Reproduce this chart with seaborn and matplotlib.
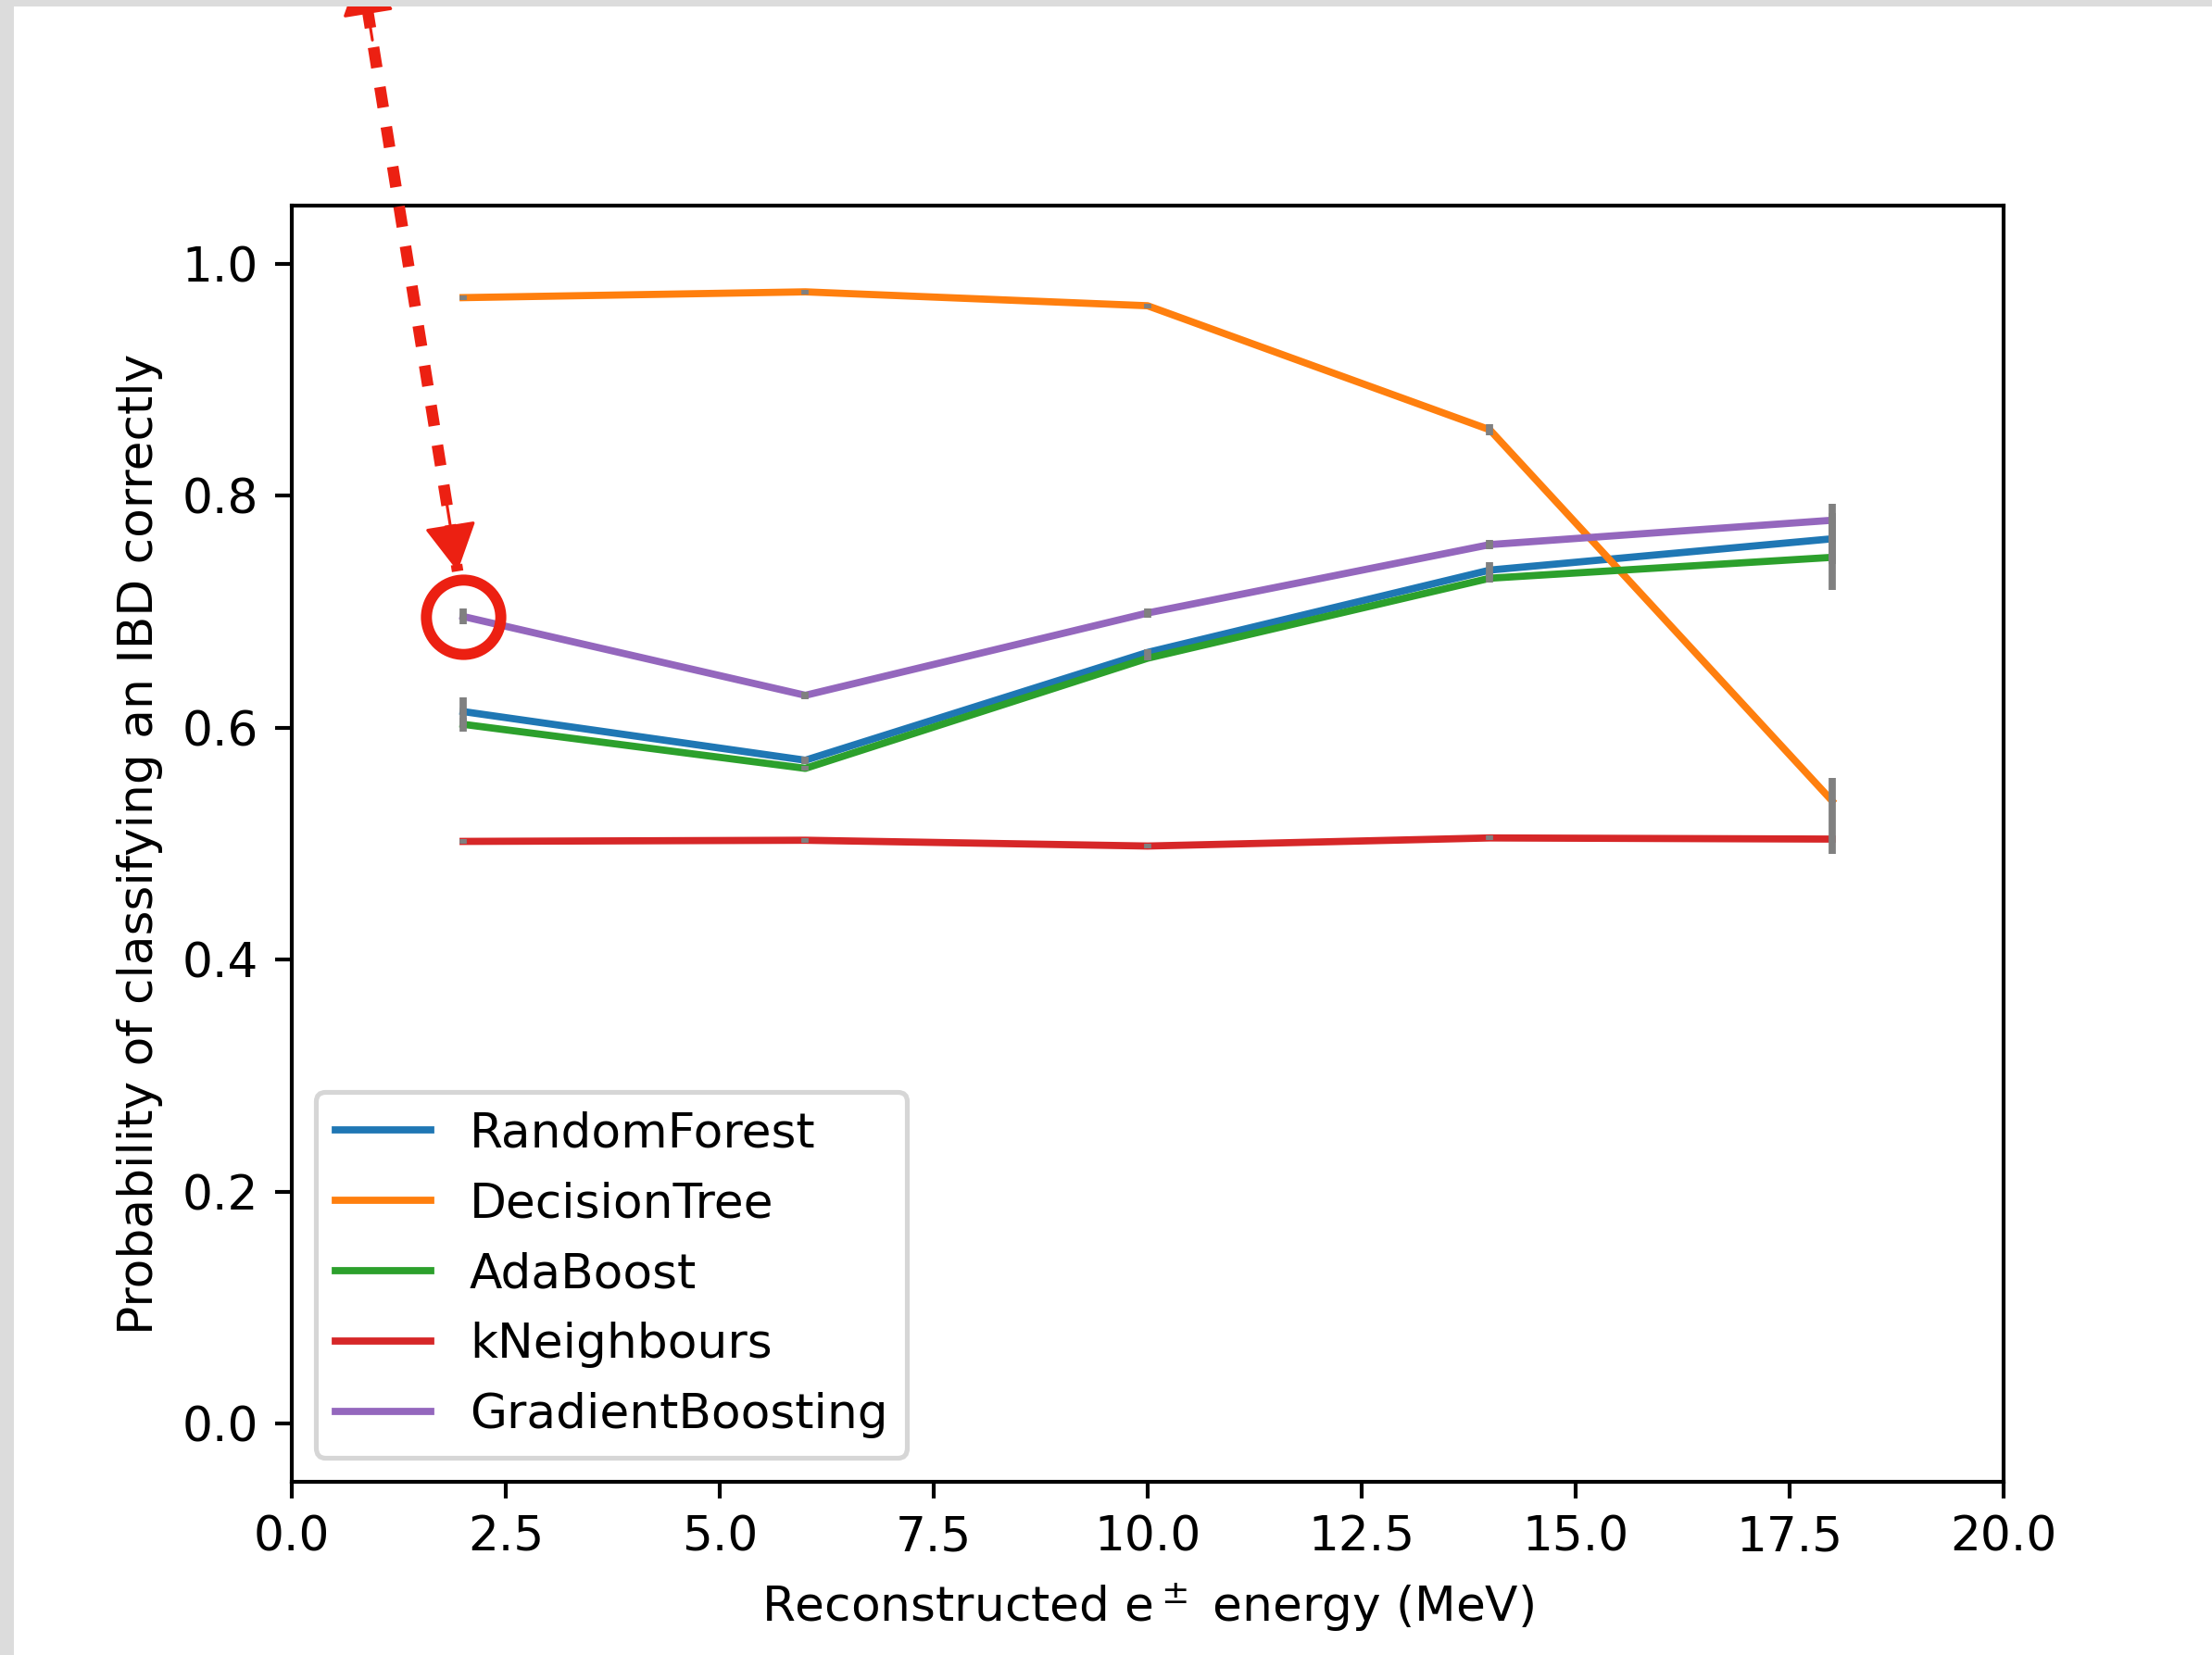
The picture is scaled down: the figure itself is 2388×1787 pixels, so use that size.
import numpy as np
import pandas as pd
import matplotlib
matplotlib.use("Agg")
import matplotlib.pyplot as plt
from matplotlib.patches import Rectangle
import seaborn as sns

# Energy bin centres (MeV)
energy = [2, 6, 10, 14, 18]

# Classifier names
classifiers = ["RandomForest", "DecisionTree", "AdaBoost", "kNeighbours", "GradientBoosting"]

# Probability of classifying an IBD event correctly, per energy bin
random_forest = [0.614, 0.572, 0.665, 0.736, 0.763]
decision_tree = [0.971, 0.976, 0.964, 0.857, 0.537]
ada_boost = [0.603, 0.565, 0.660, 0.729, 0.747]
k_neighbours = [0.502, 0.503, 0.498, 0.505, 0.504]
gradient_boosting = [0.696, 0.628, 0.699, 0.758, 0.779]

# Statistical uncertainty on each probability
random_forest_err = [0.012, 0.003, 0.003, 0.0066, 0.022]
decision_tree_err = [0.002, 0.002, 0.002, 0.0045, 0.020]
ada_boost_err = [0.006, 0.002, 0.002, 0.004, 0.028]
k_neighbours_err = [0.002, 0.002, 0.002, 0.002, 0.013]
gradient_boosting_err = [0.007, 0.003, 0.004, 0.004, 0.014]

values = [random_forest, decision_tree, ada_boost, k_neighbours, gradient_boosting]
errors = [random_forest_err, decision_tree_err, ada_boost_err, k_neighbours_err, gradient_boosting_err]

rows = []
for name, vals, errs in zip(classifiers, values, errors):
    for e, v, s in zip(energy, vals, errs):
        rows.append({"energy": e, "prob": v, "err": s, "classifier": name})
df = pd.DataFrame(rows)

dpi = 373
fig = plt.figure(figsize=(2388 / dpi, 1787 / dpi), dpi=dpi)
ax = fig.add_axes([0.1320, 0.1049, 0.9056 - 0.1320, 0.8755 - 0.1049])

palette = sns.color_palette("tab10", len(classifiers))
for name, color in zip(classifiers, palette):
    sub = df[df["classifier"] == name]
    sns.lineplot(data=sub, x="energy", y="prob", color=color, label=name,
                 linewidth=1.5, ax=ax, zorder=2)
    ax.errorbar(sub["energy"], sub["prob"], yerr=sub["err"], fmt="none",
                ecolor="gray", elinewidth=1.5, capsize=0, zorder=3)

ax.set_xlim(0, 20)
ax.set_ylim(-0.05, 1.05)
ax.set_xlabel(r"Reconstructed e$^\pm$ energy (MeV)")
ax.set_ylabel("Probability of classifying an IBD correctly")
ax.legend(loc="lower left")

# Highlight of the first GradientBoosting point
red = "#ec2012"
ax.plot([energy[0]], [gradient_boosting[0]], marker="o", markersize=15.5,
        markerfacecolor="none", markeredgecolor=red, markeredgewidth=2.3,
        linestyle="none", clip_on=False, zorder=6)

# Dashed double-headed pointer: shaft first, then two solid heads
tip_low = np.array([1.936, 0.735])
tip_high = np.array([0.804, 1.2556])
ax.annotate("", xy=tip_low, xytext=tip_high, xycoords="data", textcoords="data",
            annotation_clip=False,
            arrowprops=dict(arrowstyle="-", color=red, lw=2.4,
                            linestyle=(0, (1.8, 1.7)), capstyle="butt",
                            shrinkA=0, shrinkB=0),
            zorder=6)
back_low = tip_low + (tip_high - tip_low) * 0.12
back_high = tip_high + (tip_low - tip_high) * 0.12
head = dict(arrowstyle="-|>,head_length=0.44,head_width=0.24", color=red,
            lw=0.6, mutation_scale=20, shrinkA=0, shrinkB=0)
for tip, back in [(tip_low, back_low), (tip_high, back_high)]:
    ax.annotate("", xy=tip, xytext=back, xycoords="data", textcoords="data",
                annotation_clip=False, arrowprops=head, zorder=7)

# Light grey frame along the left and top edges
fig.patches.append(Rectangle((0, 0), 15 / 2388, 1, transform=fig.transFigure,
                             facecolor="#dcdcdc", edgecolor="none", zorder=10))
fig.patches.append(Rectangle((0, 1 - 7 / 1787), 1, 7 / 1787, transform=fig.transFigure,
                             facecolor="#dcdcdc", edgecolor="none", zorder=10))

fig.savefig("out.png", dpi=dpi)
